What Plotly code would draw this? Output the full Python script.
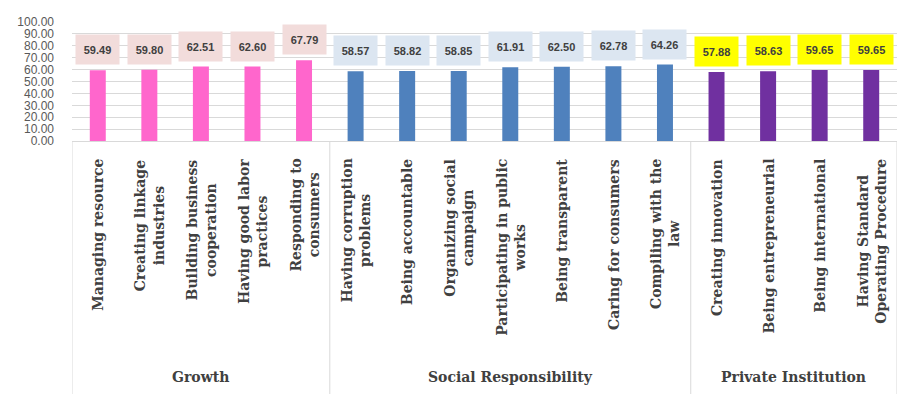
import plotly.graph_objects as go

groups = ["Growth", "Social Responsibility", "Private Institution"]
group_sizes = [5, 7, 4]
categories = [
    "Managing resource", "Creating linkage<br>industries", "Building business<br>cooperation",
    "Having good labor<br>practices", "Responding to<br>consumers",
    "Having corruption<br>problems", "Being accountable", "Organizing social<br>campaign",
    "Participating in public<br>works", "Being transparent", "Caring for consumers",
    "Compiling with the<br>law",
    "Creating innovation", "Being entrepreneurial", "Being international",
    "Having Standard<br>Operating Procedure",
]
values = [59.49, 59.80, 62.51, 62.60, 67.79,
          58.57, 58.82, 58.85, 61.91, 62.50, 62.78, 64.26,
          57.88, 58.63, 59.65, 59.65]
bar_colors = ["#FF66CC", "#4F81BD", "#7030A0"]
label_bg = ["#F2DCDB", "#DCE6F1", "#FFFF00"]
y_ticks = [0, 10, 20, 30, 40, 50, 60, 70, 80, 90, 100]

group_of = []
for gi, n in enumerate(group_sizes):
    group_of += [gi] * n
xs = list(range(len(values)))

serif = dict(family="DejaVu Serif, Liberation Serif", size=14, color="#404040", weight="bold")

fig = go.Figure()
fig.add_trace(go.Bar(
    x=xs, y=values,
    marker=dict(color=[bar_colors[g] for g in group_of], line=dict(width=0)),
    width=0.31, hoverinfo="skip",
))

ann = []
for i, v in enumerate(values):
    ann.append(dict(
        x=i, y=v, xref="x", yref="y", text=f"{v:.2f}", showarrow=False,
        yanchor="bottom", xanchor="center", yshift=5,
        bgcolor=label_bg[group_of[i]], width=43, height=29, borderpad=0,
        font=dict(family="Arial, Liberation Sans", size=11, color="#404040", weight="bold"),
    ))
for i, c in enumerate(categories):
    ann.append(dict(
        x=i, y=0, xref="x", yref="paper", text=c, showarrow=False,
        textangle=-90, yanchor="top", xanchor="center", yshift=-16, align="center",
        font=serif,
    ))
shapes = []
start = 0
bounds = [-0.5]
for gi, n in enumerate(group_sizes):
    center = start + (n - 1) / 2
    ann.append(dict(
        x=center, y=0, xref="x", yref="paper", text=groups[gi], showarrow=False,
        yanchor="middle", xanchor="center", yshift=-236,
        font=serif,
    ))
    start += n
    bounds.append(start - 0.5)
for b in bounds:
    shapes.append(dict(type="line", xref="x", yref="paper", x0=b, x1=b, y0=0, y1=-2.2,
                       line=dict(color="#D9D9D9", width=1)))

fig.update_layout(
    width=898, height=386,
    margin=dict(l=64, r=9, t=7, b=253),
    paper_bgcolor="white", plot_bgcolor="white",
    showlegend=False,
    annotations=ann, shapes=shapes,
    xaxis=dict(range=[-0.5, 15.5], showticklabels=False, showgrid=False, zeroline=False,
               showline=True, linecolor="#D9D9D9", linewidth=1, ticks=""),
    yaxis=dict(range=[0, 100], tickvals=y_ticks, ticktext=[f"{t:.2f}" for t in y_ticks],
               showgrid=True, gridcolor="#D9D9D9", gridwidth=1, zeroline=False,
               tickfont=dict(family="Arial, Liberation Sans", size=12, color="#595959"),
               ticklabelstandoff=17, fixedrange=True),
)
fig.write_html("out.html")
